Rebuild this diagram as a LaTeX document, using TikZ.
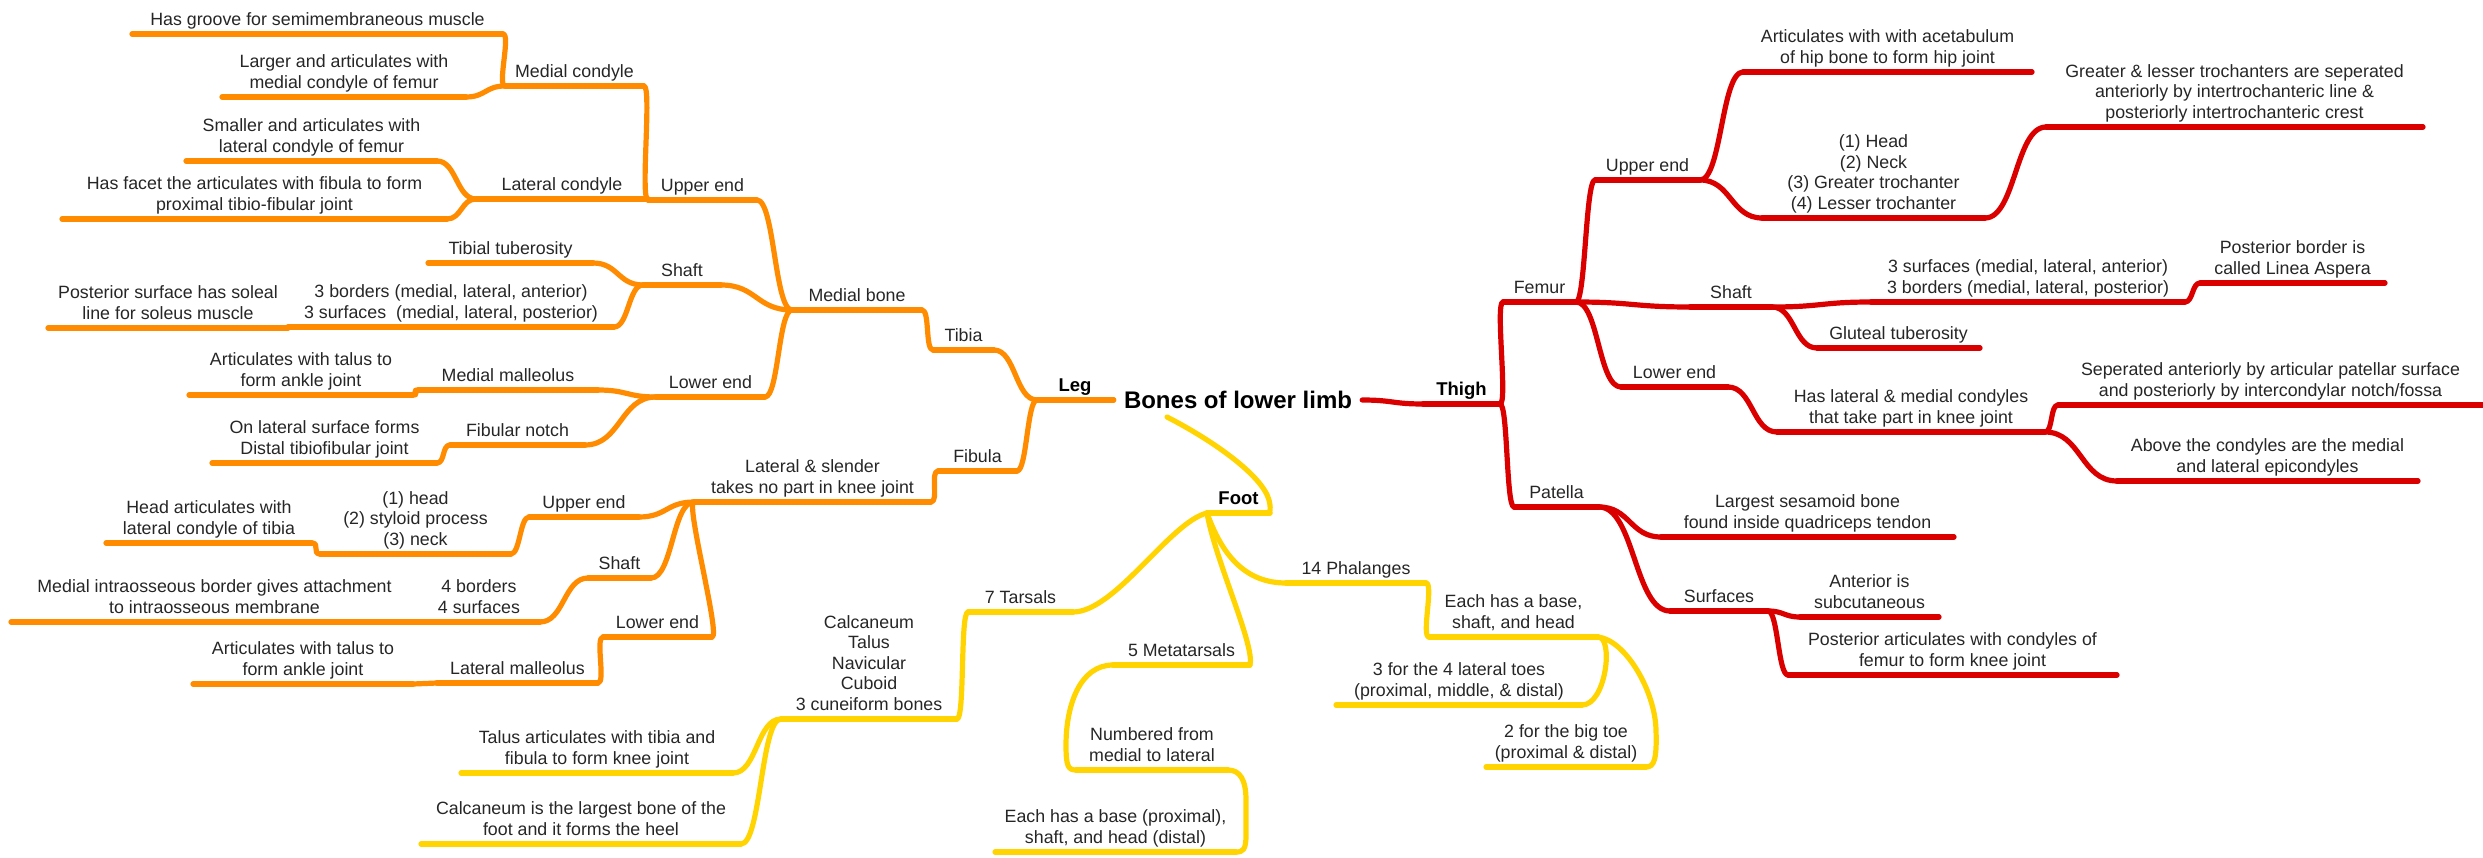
\documentclass[tikz,border=0pt]{standalone}
\usepackage{fontspec}
\setmainfont{Liberation Sans}
\usetikzlibrary{calc}

\definecolor{legorange}{RGB}{255,140,0}
\definecolor{thighred}{RGB}{218,0,0}
\definecolor{footyellow}{RGB}{255,212,0}
\definecolor{txtgray}{RGB}{38,38,38}

\tikzset{
  topic/.style={anchor=south, inner sep=0pt, outer sep=0pt, align=center,
    font=\fontsize{17.8}{20.5}\selectfont, text=txtgray},
  bigt/.style={font=\fontsize{18.5}{21}\selectfont\bfseries, text=black},
  rootnode/.style={font=\fontsize{24}{28}\selectfont\bfseries, text=black,
    inner xsep=10pt, inner ysep=2pt},
  branch/.style={line width=5.2pt, line cap=round, line join=round},
  ol/.style={branch, draw=legorange},
  rl/.style={branch, draw=thighred},
  yl/.style={branch, draw=footyellow},
  % S-shaped link running to the left (parent on the right)
  lc/.style={to path={let \p1=(\tikztostart), \p2=(\tikztotarget),
      \n1={max(abs(\x2-\x1)/2,8)} in
      .. controls ({\x1-\n1},\y1) and ({\x2+\n1},\y2) .. (\tikztotarget)}},
  % S-shaped link running to the right (parent on the left)
  rc/.style={to path={let \p1=(\tikztostart), \p2=(\tikztotarget),
      \n1={max(abs(\x2-\x1)/2,8)} in
      .. controls ({\x1+\n1},\y1) and ({\x2-\n1},\y2) .. (\tikztotarget)}},
}

% [node options]{line style}{name}{x left}{x right}{y of underline}{text}
\newcommand\topic[7][]{%
  \node[topic,#1, minimum width={(#5-#4)*1pt}] (#3) at ({(#4+#5)/2},#6)
    {#7\rule[-8.6pt]{0pt}{8.6pt}};
  \draw[#2] (#3.south west) -- (#3.south east);
}

\begin{document}
\begin{tikzpicture}[x=1pt,y=-1pt]
\useasboundingbox (0,0) rectangle (2483,858);

\node[rootnode] (root) at (1238,400) {Bones of lower limb};

% ---------------- Leg ----------------
\topic[bigt]{ol}{leg}{1037}{1113}{400}{Leg}
\draw[ol] (leg.south east) -- (root.west);

\topic{ol}{tibia}{933}{994}{350}{Tibia}
\topic{ol}{fibula}{938}{1017}{471}{Fibula}
\topic{ol}{medbone}{792}{922}{310}{Medial bone}
\topic{ol}{tupper}{648}{757}{200}{Upper end}
\topic{ol}{tshaft}{643}{721}{285}{Shaft}
\topic{ol}{tlower}{656}{765}{397}{Lower end}
\topic{ol}{medcond}{505}{644}{86}{Medial condyle}
\topic{ol}{latcond}{476}{648}{199}{Lateral condyle}
\topic{ol}{groove}{132}{503}{34}{Has groove for semimembraneous muscle}
\topic{ol}{larger}{222}{466}{97}{Larger and articulates with\\medial condyle of femur}
\topic{ol}{smaller}{186}{437}{161}{Smaller and articulates with\\lateral condyle of femur}
\topic{ol}{facet}{62}{447}{219}{Has facet the articulates with fibula to form\\proximal tibio-fibular joint}
\topic{ol}{tibtub}{428}{593}{263}{Tibial tuberosity}
\topic{ol}{bord3}{288}{614}{327}{3 borders (medial, lateral, anterior)\\3 surfaces\ \ (medial, lateral, posterior)}
\topic{ol}{soleal}{48}{288}{328}{Posterior surface has soleal\\line for soleus muscle}
\topic{ol}{medmall}{418}{598}{390}{Medial malleolus}
\topic{ol}{ankleA}{189}{413}{395}{Articulates with talus to\\form ankle joint}
\topic{ol}{fibnotch}{450}{585}{445}{Fibular notch}
\topic{ol}{distal}{212}{437}{463}{On lateral surface forms\\Distal tibiofibular joint}
\topic{ol}{latsl}{694}{931}{502}{Lateral \& slender\\takes no part in knee joint}
\topic{ol}{fupper}{529}{639}{517}{Upper end}
\topic{ol}{heads}{320}{511}{554}{(1) head\\(2) styloid process\\(3) neck}
\topic{ol}{headart}{106}{312}{543}{Head articulates with\\lateral condyle of tibia}
\topic{ol}{fshaft}{588}{651}{578}{Shaft}
\topic{ol}{bord4}{418}{540}{622}{4 borders\\4 surfaces}
\topic{ol}{intra}{11}{418}{622}{Medial intraosseous border gives attachment\\to intraosseous membrane}
\topic{ol}{flower}{603}{712}{637}{Lower end}
\topic{ol}{latmall}{437}{598}{683}{Lateral malleolus}
\topic{ol}{ankleB}{193}{413}{684}{Articulates with talus to\\form ankle joint}

\draw[ol] (leg.south west) to[lc] (tibia.south east);
\draw[ol] (leg.south west) to[lc] (fibula.south east);
\draw[ol] (tibia.south west) to[lc] (medbone.south east);
\draw[ol] (fibula.south west) to[lc] (latsl.south east);
\draw[ol] (medbone.south west) to[lc] (tupper.south east);
\draw[ol] (medbone.south west) to[lc] (tshaft.south east);
\draw[ol] (medbone.south west) to[lc] (tlower.south east);
\draw[ol] (tupper.south west) to[lc] (medcond.south east);
\draw[ol] (tupper.south west) -- (latcond.south east);
\draw[ol] (medcond.south west) to[lc] (groove.south east);
\draw[ol] (medcond.south west) to[lc] (larger.south east);
\draw[ol] (latcond.south west) to[lc] (smaller.south east);
\draw[ol] (latcond.south west) to[lc] (facet.south east);
\draw[ol] (tshaft.south west) to[lc] (tibtub.south east);
\draw[ol] (tshaft.south west) to[lc] (bord3.south east);
\draw[ol] (bord3.south west) -- (soleal.south east);
\draw[ol] (tlower.south west) to[lc] (medmall.south east);
\draw[ol] (tlower.south west) to[lc] (fibnotch.south east);
\draw[ol] (medmall.south west) to[lc] (ankleA.south east);
\draw[ol] (fibnotch.south west) to[lc] (distal.south east);
\draw[ol] (latsl.south west) to[lc] (fupper.south east);
\draw[ol] (latsl.south west) to[lc] (fshaft.south east);
\draw[ol] (latsl.south west) to[lc] (flower.south east);
\draw[ol] (fupper.south west) to[lc] (heads.south east);
\draw[ol] (heads.south west) to[lc] (headart.south east);
\draw[ol] (fshaft.south west) to[lc] (bord4.south east);
\draw[ol] (bord4.south west) -- (intra.south east);
\draw[ol] (flower.south west) to[lc] (latmall.south east);
\draw[ol] (latmall.south west) to[lc] (ankleB.south east);

% ---------------- Thigh ----------------
\topic[bigt]{rl}{thigh}{1423}{1500}{404}{Thigh}
\topic{rl}{femur}{1503}{1576}{302}{Femur}
\topic{rl}{patella}{1514}{1599}{507}{Patella}
\topic{rl}{fup}{1595}{1700}{180}{Upper end}
\topic{rl}{fsh}{1690}{1772}{307}{Shaft}
\topic{rl}{flo}{1621}{1728}{387}{Lower end}
\topic{rl}{acet}{1743}{2032}{72}{Articulates with with acetabulum\\of hip bone to form hip joint}
\topic{rl}{parts}{1762}{1985}{218}{(1) Head\\(2) Neck\\(3) Greater trochanter\\(4) Lesser trochanter}
\topic{rl}{troch}{2046}{2423}{127}{Greater \& lesser trochanters are seperated\\anteriorly by intertrochanteric line \&\\posteriorly intertrochanteric crest}
\topic{rl}{surf3}{1871}{2185}{302}{3 surfaces (medial, lateral, anterior)\\3 borders (medial, lateral, posterior)}
\topic{rl}{linea}{2200}{2385}{283}{Posterior border is\\called Linea Aspera}
\topic{rl}{glut}{1817}{1980}{348}{Gluteal tuberosity}
\topic{rl}{cond}{1777}{2045}{432}{Has lateral \& medial condyles\\that take part in knee joint}
\topic{rl}{sep}{2058}{2483}{405}{Seperated anteriorly by articular patellar surface\\and posteriorly by intercondylar notch/fossa}
\topic{rl}{above}{2117}{2418}{481}{Above the condyles are the medial\\and lateral epicondyles}
\topic{rl}{sesam}{1661}{1954}{537}{Largest sesamoid bone\\found inside quadriceps tendon}
\topic{rl}{surfs}{1670}{1768}{611}{Surfaces}
\topic{rl}{anter}{1800}{1939}{617}{Anterior is\\subcutaneous}
\topic{rl}{poster}{1788}{2117}{675}{Posterior articulates with condyles of\\femur to form knee joint}

\draw[rl] (root.east) to[rc] (thigh.south west);
\draw[rl] (thigh.south east) to[rc] (femur.south west);
\draw[rl] (thigh.south east) to[rc] (patella.south west);
\draw[rl] (femur.south east) to[rc] (fup.south west);
\draw[rl] (femur.south east) to[rc] (fsh.south west);
\draw[rl] (femur.south east) to[rc] (flo.south west);
\draw[rl] (fup.south east) to[rc] (acet.south west);
\draw[rl] (fup.south east) to[rc] (parts.south west);
\draw[rl] (parts.south east) to[rc] (troch.south west);
\draw[rl] (fsh.south east) to[rc] (surf3.south west);
\draw[rl] (surf3.south east) to[rc] (linea.south west);
\draw[rl] (fsh.south east) to[rc] (glut.south west);
\draw[rl] (flo.south east) to[rc] (cond.south west);
\draw[rl] (cond.south east) to[rc] (sep.south west);
\draw[rl] (cond.south east) to[rc] (above.south west);
\draw[rl] (patella.south east) to[rc] (sesam.south west);
\draw[rl] (patella.south east) to[rc] (surfs.south west);
\draw[rl] (surfs.south east) to[rc] (anter.south west);
\draw[rl] (surfs.south east) to[rc] (poster.south west);

% ---------------- Foot ----------------
\topic[bigt]{yl}{foot}{1207}{1270}{513}{Foot}
\topic{yl}{tars}{968}{1073}{612}{7 Tarsals}
\topic{yl}{meta}{1113}{1250}{665}{5 Metatarsals}
\topic{yl}{phal}{1286}{1426}{583}{14 Phalanges}
\topic{yl}{calc}{781}{957}{719}{Calcaneum\\Talus\\Navicular\\Cuboid\\3 cuneiform bones}
\topic{yl}{talus}{461}{733}{773}{Talus articulates with tibia and\\fibula to form knee joint}
\topic{yl}{heel}{421}{741}{844}{Calcaneum is the largest bone of the\\foot and it forms the heel}
\topic{yl}{numb}{1076}{1228}{770}{Numbered from\\medial to lateral}
\topic{yl}{ebase}{995}{1236}{852}{Each has a base (proximal),\\shaft, and head (distal)}
\topic{yl}{ebp}{1429}{1598}{637}{Each has a base,\\shaft, and head}
\topic{yl}{toes3}{1336}{1582}{705}{3 for the 4 lateral toes\\(proximal, middle, \& distal)}
\topic{yl}{toes2}{1486}{1646}{767}{2 for the big toe\\(proximal \& distal)}

\draw[yl] ([xshift=-71pt,yshift=-6pt]root.south) .. controls (1212,440) and (1262,475) .. (1269,500)
          .. controls (1272,512) and (1268,513) .. (foot.south east);
\draw[yl] (foot.south west) .. controls (1170,522) and (1115,612) .. (tars.south east);
\draw[yl] (foot.south west) .. controls (1215,560) and (1255,645) .. (meta.south east);
\draw[yl] (foot.south west) .. controls (1222,555) and (1245,583) .. (phal.south west);
\draw[yl] (tars.south west) to[lc] (calc.south east);
\draw[yl] (calc.south west) to[lc] (talus.south east);
\draw[yl] (calc.south west) to[lc] (heel.south east);
\draw[yl] (meta.south west) .. controls (1080,665) and (1066,705) .. (1066,745)
          .. controls (1066,766) and (1068,770) .. (numb.south west);
\draw[yl] (numb.south east) .. controls (1240,770) and (1246,780) .. (1246,800) -- (1246,835)
          .. controls (1246,850) and (1243,852) .. (ebase.south east);
\draw[yl] (phal.south east) to[rc] (ebp.south west);
\draw[yl] (ebp.south east) .. controls (1614,637) and (1606,705) .. (toes3.south east);
\draw[yl] (ebp.south east) .. controls (1625,640) and (1655,690) .. (1656,730)
          .. controls (1657,760) and (1654,767) .. (toes2.south east);
\end{tikzpicture}
\end{document}
